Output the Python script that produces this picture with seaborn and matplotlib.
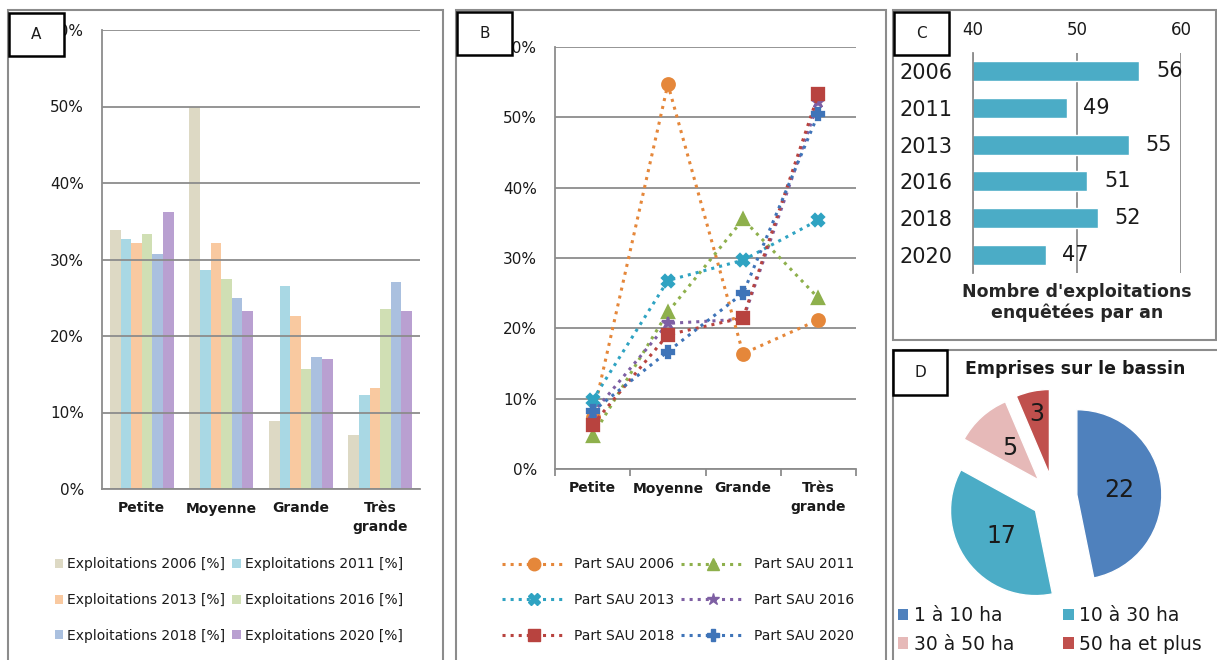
import matplotlib
matplotlib.use("Agg")
import matplotlib.pyplot as plt
import pandas as pd
import seaborn as sns
from matplotlib.lines import Line2D
from matplotlib.patches import Patch, Rectangle
from matplotlib.ticker import PercentFormatter

W, H = 1217, 660

tailles = ["Petite", "Moyenne", "Grande", "Très\ngrande"]
annees = ["2006", "2011", "2013", "2016", "2018", "2020"]

# A - part des exploitations par taille (%)
expl_2006 = [33.9, 50.0, 8.9, 7.1]
expl_2011 = [32.7, 28.6, 26.6, 12.3]
expl_2013 = [32.1, 32.1, 22.6, 13.2]
expl_2016 = [33.3, 27.5, 15.7, 23.5]
expl_2018 = [30.7, 25.0, 17.3, 27.0]
expl_2020 = [36.2, 23.3, 17.0, 23.3]

# B - part de la SAU par taille (%)
sau_2006 = [7.4, 54.7, 16.4, 21.2]
sau_2011 = [4.7, 22.3, 35.5, 24.3]
sau_2013 = [9.8, 26.8, 29.7, 35.4]
sau_2016 = [7.9, 20.7, 21.3, 52.2]
sau_2018 = [6.3, 19.1, 21.5, 53.3]
sau_2020 = [8.2, 16.7, 25.0, 50.5]

# C - nombre d'exploitations enquetees
nb_exploitations = [56, 49, 55, 51, 52, 47]

# D - emprises sur le bassin
classes = ["1 à 10 ha", "10 à 30 ha", "30 à 50 ha", "50 ha et plus"]
emprises = [22, 17, 5, 3]

cols_a = ["#DDD9C4", "#A9D8E4", "#F9C9A0", "#D0DFB4", "#AAC0DF", "#B9A0D1"]
cols_b = ["#E5873A", "#8EB04C", "#2FA3C2", "#7E5FA3", "#B8433F", "#3F74B8"]
marq_b = ["o", "^", "X", "*", "s", "P"]
cols_d = ["#4F81BD", "#4BACC6", "#E6B9B8", "#C0504D"]
teal = "#4BACC6"
gris = "#8c8c8c"


def box(l, t, r, b):
    return [l / W, 1 - b / H, (r - l) / W, (b - t) / H]


sns.set_theme(style="white")
plt.rcParams["font.family"] = ["DejaVu Sans"]
plt.rcParams["text.color"] = "#1a1a1a"
plt.rcParams["xtick.color"] = "#1a1a1a"
plt.rcParams["ytick.color"] = "#1a1a1a"
fig = plt.figure(figsize=(W / 100, H / 100), dpi=100)

# ---- A : barres groupees
expl = [expl_2006, expl_2011, expl_2013, expl_2016, expl_2018, expl_2020]
df_a = pd.DataFrame(
    [(t, a, v) for a, vals in zip(annees, expl) for t, v in zip(tailles, vals)],
    columns=["taille", "annee", "pct"],
)
ax_a = fig.add_axes(box(102, 30, 420, 489))
sns.barplot(data=df_a, x="taille", y="pct", hue="annee", palette=cols_a,
            width=0.8, saturation=1, linewidth=0, legend=False, ax=ax_a)
ax_a.set_ylim(0, 60)
ax_a.set_yticks(range(0, 61, 10))
ax_a.yaxis.set_major_formatter(PercentFormatter(decimals=0))
ax_a.grid(axis="y", color=gris, lw=1.3)
ax_a.set_axisbelow(False)
ax_a.set_xticks(range(4))
ax_a.set_xticklabels(tailles, fontweight="bold", fontsize=10, linespacing=1.4)
ax_a.tick_params(axis="x", length=0, pad=9)
ax_a.tick_params(axis="y", length=0, pad=13, labelsize=11)
ax_a.set_xlabel("")
ax_a.set_ylabel("")
sns.despine(ax=ax_a)
for s in ("left", "bottom"):
    ax_a.spines[s].set_color(gris)
    ax_a.spines[s].set_linewidth(1.3)

# ---- B : courbes pointillees
sau = [sau_2006, sau_2011, sau_2013, sau_2016, sau_2018, sau_2020]
df_b = pd.DataFrame(
    [(t, a, v) for a, vals in zip(annees, sau) for t, v in zip(tailles, vals)],
    columns=["taille", "annee", "part"],
)
ax_b = fig.add_axes(box(555, 47, 856, 469))
sns.pointplot(data=df_b, x="taille", y="part", hue="annee", palette=cols_b,
              markers=marq_b, linestyles=":", errorbar=None, markersize=9,
              linewidth=2.2, legend=False, ax=ax_b)
ax_b.set_ylim(0, 60)
ax_b.set_xlim(-0.5, 3.5)
ax_b.set_yticks(range(0, 61, 10))
ax_b.yaxis.set_major_formatter(PercentFormatter(decimals=0))
ax_b.grid(axis="y", color=gris, lw=1.3)
ax_b.set_xticks(range(4))
ax_b.set_xticklabels(tailles, fontweight="bold", fontsize=10, linespacing=1.4)
ax_b.set_xticks([-0.5, 0.5, 1.5, 2.5, 3.5], minor=True)
ax_b.tick_params(axis="x", which="major", length=0, pad=9)
ax_b.tick_params(axis="x", which="minor", bottom=True, length=5, width=1.3, color=gris)
ax_b.tick_params(axis="y", length=0, pad=13, labelsize=11)
ax_b.set_xlabel("")
ax_b.set_ylabel("")
sns.despine(ax=ax_b)
for s in ("left", "bottom"):
    ax_b.spines[s].set_color(gris)
    ax_b.spines[s].set_linewidth(1.3)

# ---- C : barres horizontales
df_c = pd.DataFrame({"annee": annees, "nb": nb_exploitations})
ax_c = fig.add_axes(box(973, 53, 1181, 273))
sns.barplot(data=df_c, y="annee", x="nb", color=teal, saturation=1,
            width=0.55, orient="h", ax=ax_c)
ax_c.set_xlim(40, 60)
ax_c.xaxis.tick_top()
ax_c.set_xticks([40, 50, 60])
ax_c.grid(axis="x", color=gris, lw=1.3)
ax_c.set_axisbelow(True)
ax_c.tick_params(axis="x", length=0, pad=10, labelsize=12)
ax_c.tick_params(axis="y", length=0, pad=15, labelsize=15)
ax_c.bar_label(ax_c.containers[0], padding=12, fontsize=15)
ax_c.set_ylabel("")
ax_c.set_xlabel("Nombre d'exploitations\nenquêtées par an", fontweight="bold",
                fontsize=12.5, labelpad=7)
sns.despine(ax=ax_c, bottom=True)
ax_c.spines["left"].set_color(gris)
ax_c.spines["left"].set_linewidth(1.3)

# ---- D : camembert
ax_d = fig.add_axes(box(935, 378, 1173, 616))
total = sum(emprises)
wedges, _, autotexts = ax_d.pie(
    emprises, colors=cols_d, startangle=90, counterclock=False,
    explode=[0.27] * 4, autopct=lambda p: f"{p * total / 100:.0f}",
    pctdistance=0.5, textprops={"fontsize": 17, "color": "#1a1a1a"})
# the smallest slice label sits further out, as in the original
cx, cy = wedges[3].center
px, py = autotexts[3].get_position()
autotexts[3].set_position((cx + (px - cx) * 1.45, cy + (py - cy) * 1.45))
ax_d.set_xlim(-1.4, 1.4)
ax_d.set_ylim(-1.4, 1.4)
ax_d.set_axis_off()
fig.text(1075 / W, 1 - 369 / H, "Emprises sur le bassin", fontweight="bold",
         fontsize=12.5, ha="center", va="center")

# ---- legendes
order = [0, 2, 4, 1, 3, 5]
h_a = [Patch(facecolor=cols_a[i], edgecolor="none") for i in order]
l_a = [f"Exploitations {annees[i]} [%]" for i in order]
fig.legend(h_a, l_a, loc="center", bbox_to_anchor=(229 / W, 1 - 600 / H), ncol=2,
           frameon=False, fontsize=10, handlelength=0.6, handleheight=0.6,
           handletextpad=0.3, columnspacing=0.5, labelspacing=1.55, borderpad=0)

h_b = [Line2D([], [], color=cols_b[i], ls=":", lw=2.2, marker=marq_b[i], ms=9)
       for i in order]
l_b = [f"Part SAU {annees[i]}" for i in order]
fig.legend(h_b, l_b, loc="center", bbox_to_anchor=(678 / W, 1 - 600 / H), ncol=2,
           frameon=False, fontsize=10, handlelength=4.6, handletextpad=0.6,
           columnspacing=0.5, labelspacing=1.55, borderpad=0)

order_d = [0, 2, 1, 3]
h_d = [Patch(facecolor=cols_d[i], edgecolor="none") for i in order_d]
l_d = [classes[i] for i in order_d]
fig.legend(h_d, l_d, loc="center", bbox_to_anchor=(1050 / W, 1 - 630 / H), ncol=2,
           frameon=False, fontsize=13.5, handlelength=0.55, handleheight=0.55,
           handletextpad=0.3, columnspacing=2.6, labelspacing=0.5, borderpad=0)

# ---- cadres et etiquettes de panneaux
def cadre(l, t, r, b, **kw):
    fig.add_artist(Rectangle((l / W, 1 - b / H), (r - l) / W, (b - t) / H,
                             transform=fig.transFigure, **kw))


for l, t, r, b in [(8, 10, 443, 670), (456, 10, 886, 670),
                   (893, 10, 1216, 340), (893, 350, 1220, 670)]:
    cadre(l, t, r, b, fill=False, edgecolor=gris, lw=1.5, zorder=5)

for lettre, (l, t, r, b) in zip("ABCD", [(9, 13, 64, 56), (457, 12, 512, 55),
                                        (894, 12, 949, 55), (893, 350, 947, 395)]):
    cadre(l, t, r, b, facecolor="white", edgecolor="black", lw=1.8, zorder=10)
    fig.text((l + r) / 2 / W, 1 - (t + b) / 2 / H, lettre, fontsize=11,
             ha="center", va="center", zorder=11)

fig.savefig("out.png", dpi=100)
